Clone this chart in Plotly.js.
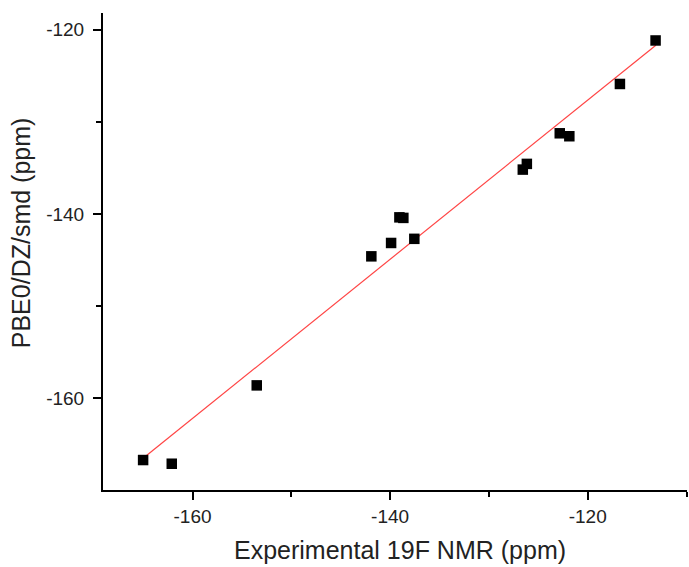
<!DOCTYPE html>
<html>
<head>
<meta charset="utf-8">
<script src="https://cdn.plot.ly/plotly-3.0.1.min.js"></script>
<style>html,body{margin:0;padding:0;background:#fff;}#chart{width:689px;height:567px;}</style>
</head>
<body>
<div id="chart"></div>
<script>
// Experimental 19F NMR shifts (ppm)
const expShift = [-165.0, -162.1, -153.5, -141.9, -139.9, -139.06, -138.66, -137.55, -126.57, -126.16, -122.83, -121.86, -116.74, -113.13];
// Calculated PBE0/DZ/smd shifts (ppm)
const calcShift = [-166.7, -167.1, -158.6, -144.6, -143.15, -140.37, -140.43, -142.7, -135.19, -134.57, -131.25, -131.57, -125.9, -121.18];
// Linear fit line endpoints
const fitX = [-165.0, -113.1];
const fitY = [-166.5, -121.7];

// Tick values and labels
const majorTicks = [-160, -140, -120];
const majorLabels = ['-160', '-140', '-120'];
const minorTicks = [-170, -150, -130, -110];

const xTitle = 'Experimental 19F NMR (ppm)';
const yTitle = 'PBE0/DZ/smd (ppm)';

const traces = [
  {x: fitX, y: fitY, type: 'scatter', mode: 'lines',
   line: {color: '#ff4545', width: 1.2}, hoverinfo: 'skip'},
  {x: expShift, y: calcShift, type: 'scatter', mode: 'markers',
   marker: {symbol: 'square', size: 10.5, color: '#000000'}}
];

function axisCommon() {
  return {
    showline: true, linecolor: '#000', linewidth: 2,
    showgrid: false, zeroline: false,
    ticks: 'outside', ticklen: 8, tickwidth: 2, tickcolor: '#000',
    tickmode: 'array', tickvals: majorTicks, ticktext: majorLabels,
    tickfont: {family: 'Liberation Sans, Arial, sans-serif', size: 19, color: '#222'},
    minor: {tickmode: 'array', tickvals: minorTicks, ticks: 'outside', ticklen: 5, tickwidth: 2, tickcolor: '#000', showgrid: false},
    mirror: false
  };
}

const layout = {
  width: 689, height: 567,
  margin: {l: 103, r: 2, t: 13, b: 77},
  paper_bgcolor: '#fff', plot_bgcolor: '#fff',
  showlegend: false,
  xaxis: Object.assign(axisCommon(), {range: [-169.06, -109.95]}),
  yaxis: Object.assign(axisCommon(), {range: [-169.95, -118.2], ticklabelstandoff: 5}),
  annotations: [
    {text: xTitle, xref: 'paper', yref: 'paper', x: 0.508, y: -0.126,
     xanchor: 'center', yanchor: 'middle', showarrow: false,
     font: {family: 'Liberation Sans, Arial, sans-serif', size: 25, color: '#222'}},
    {text: yTitle, xref: 'paper', yref: 'paper', x: -0.139, y: 0.54,
     xanchor: 'center', yanchor: 'middle', showarrow: false, textangle: -90,
     font: {family: 'Liberation Sans, Arial, sans-serif', size: 25, color: '#222'}}
  ]
};

Plotly.newPlot('chart', traces, layout, {staticPlot: true, displayModeBar: false});
</script>
</body>
</html>
